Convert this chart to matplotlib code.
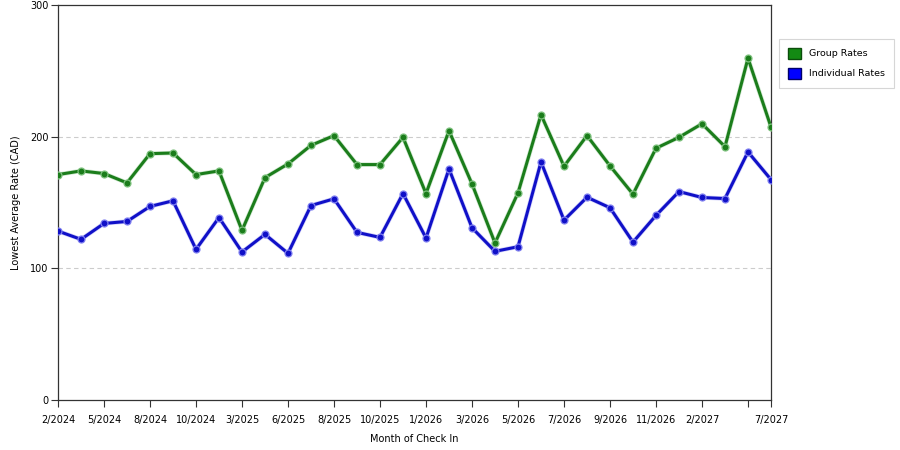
import matplotlib
matplotlib.use("Agg")
import matplotlib.pyplot as plt
from matplotlib.patches import Patch

# point labels (only every other point is labelled on the axis)
tick_labels = ["2/2024", "5/2024", "8/2024", "10/2024", "3/2025", "6/2025",
               "8/2025", "10/2025", "1/2026", "3/2026", "5/2026", "7/2026",
               "9/2026", "11/2026", "2/2027", "", "7/2027"]
tick_index = [0, 2, 4, 6, 8, 10, 12, 14, 16, 18, 20, 22, 24, 26, 28, 30, 31]

group_rates = [171.2, 174.0, 172.0, 164.9, 187.1, 187.6, 171.2, 174.0,
               128.8, 168.9, 179.3, 193.4, 200.8, 178.8, 178.8, 199.5,
               156.8, 204.5, 164.1, 119.2, 157.3, 216.7, 177.5, 200.8,
               177.8, 156.3, 191.2, 199.5, 209.8, 192.4, 259.6, 207.3]
individual_rates = [128.3, 122.0, 134.1, 135.6, 147.0, 151.3, 114.4, 138.6,
                    112.4, 125.8, 111.4, 147.7, 152.8, 127.3, 123.5, 156.8,
                    123.0, 175.5, 130.8, 112.9, 116.4, 180.8, 136.6, 154.0,
                    146.0, 119.9, 140.2, 158.3, 153.8, 153.0, 188.4, 167.4]

GREEN = "#1b7d1b"
BLUE = "#1010c8"

fig = plt.figure(figsize=(9, 4.5), dpi=100)
ax = fig.add_axes([58 / 900, 50 / 450, 713 / 900, 395 / 450])

x = list(range(len(group_rates)))
for vals, col, glow in ((group_rates, GREEN, "#7fc27f"), (individual_rates, BLUE, "#8080f0")):
    ax.plot(x, vals, color=glow, lw=3.2, alpha=0.35, solid_capstyle="round", zorder=2)
    ax.plot(x, vals, color=col, lw=2.2, zorder=3,
            marker="o", ms=5.0, mfc=col, mec=glow, mew=0.9)

ax.set_xlim(0, len(x) - 1)
ax.set_ylim(0, 300)
ax.set_yticks([0, 100, 200, 300])
ax.set_xticks(tick_index)
ax.set_xticklabels(tick_labels)
ax.tick_params(axis="both", labelsize=7, direction="out", length=5, width=0.8, color="#333333")
ax.tick_params(axis="x", pad=6)
ax.tick_params(axis="y", pad=2)
for y in (100, 200):
    ax.axhline(y, color="#cccccc", lw=0.8, ls=(0, (4, 3)), zorder=1)
for s in ax.spines.values():
    s.set_color("#333333")
    s.set_linewidth(0.9)

ax.set_xlabel("Month of Check In", fontsize=7, labelpad=6)
ax.set_ylabel("Lowest Average Rate (CAD)", fontsize=7, labelpad=6)

handles = [Patch(facecolor="#138a13", edgecolor="#0b4d0b", label="Group Rates"),
           Patch(facecolor="#0000ff", edgecolor="#00006a", label="Individual Rates")]
leg = fig.legend(handles=handles, loc="upper left", bbox_to_anchor=(779 / 900, 1 - 39 / 450),
                 borderaxespad=0, fontsize=6.8, frameon=True, fancybox=False,
                 handlelength=1.35, handleheight=1.35, borderpad=0.95, labelspacing=1.0,
                 handletextpad=0.85)
leg.get_frame().set_edgecolor("#cccccc")
leg.get_frame().set_linewidth(0.8)

fig.savefig("out.png", dpi=100)
